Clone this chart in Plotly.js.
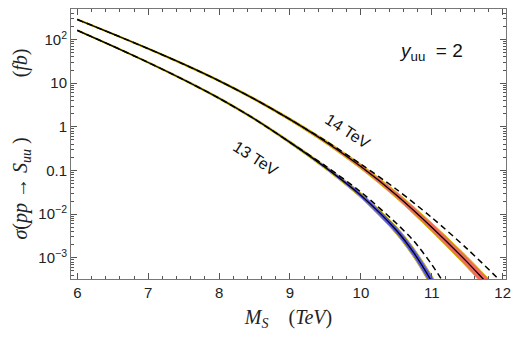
<!DOCTYPE html>
<html>
<head>
<meta charset="utf-8">
<script src="https://cdn.plot.ly/plotly-3.0.1.min.js"></script>
<style>html,body{margin:0;padding:0;background:#fff;}</style>
</head>
<body>
<div id="chart" style="width:515px;height:337px;"></div>
<script>
// 13 TeV: central, band upper/lower, dashed curve (fb)
const x13 = [6, 6.5, 7, 7.5, 8, 8.5, 9, 9.5, 10, 10.5, 10.75, 11, 11.25];
const mid13 = [162.2, 70.79, 29.85, 12.02, 4.519, 1.514, 0.4416, 0.1175, 0.02692, 0.004266, 0.001274, 0.0002851, 0.0000507];
const up13 = [167.9, 73.28, 31.05, 12.59, 4.753, 1.603, 0.4732, 0.1288, 0.0309, 0.005248, 0.001641, 0.0003936, 0.00007499];
const lo13 = [156.7, 68.39, 28.71, 11.48, 4.295, 1.429, 0.4121, 0.1072, 0.02344, 0.003467, 0.0009886, 0.0002065, 0.00003428];
const dash13 = [162.2, 70.79, 29.85, 12.02, 4.519, 1.514, 0.4416, 0.1271, 0.03214, 0.006166, 0.002388, 0.0006998, 0.0001641];

// 14 TeV: central, band upper/lower (fb)
const x14 = [6, 6.5, 7, 7.5, 8, 8.5, 9, 9.5, 10, 10.5, 11, 11.5, 11.75, 12];
const mid14 = [288.4, 134.9, 61.66, 27.23, 11.35, 4.315, 1.479, 0.4571, 0.123, 0.02754, 0.005012, 0.0007943, 0.0002951, 0.0001096];
const up14 = [298.5, 139.6, 64.12, 28.51, 11.94, 4.571, 1.585, 0.5012, 0.1396, 0.03273, 0.00631, 0.001059, 0.0004074, 0.0001549];
const lo14 = [278.6, 130.3, 59.29, 26.0, 10.79, 4.074, 1.38, 0.4169, 0.1084, 0.02317, 0.003981, 0.0005957, 0.0002138, 0.00007762];
// 14 TeV dashed curve (fb)
const xd14 = [6, 6.5, 7, 7.5, 8, 8.5, 9, 9.5, 10, 10.5, 11, 11.5, 12, 12.25];
const dash14 = [288.4, 134.9, 61.66, 27.23, 11.35, 4.315, 1.479, 0.4786, 0.1403, 0.03715, 0.008356, 0.0016, 0.0002618, 0.0001];

const yLabelAlias = {'100': '10<sup>2</sup>', '0.01': '10<sup>−2</sup>', '0.001': '10<sup>−3</sup>'};

const edge = 'rgb(205,185,0)';
function band(x, up, lo, fillc) {
  return [
    {x: x, y: up, type: 'scatter', mode: 'lines', line: {color: edge, width: 1, shape: 'spline', smoothing: 0.8}, hoverinfo: 'skip', showlegend: false},
    {x: x, y: lo, type: 'scatter', mode: 'lines', fill: 'tonexty', fillcolor: fillc, line: {color: edge, width: 1, shape: 'spline', smoothing: 0.8}, hoverinfo: 'skip', showlegend: false}
  ];
}
const solid = {color: 'black', width: 1.3, shape: 'spline', smoothing: 0.8};
const dashed = {color: 'black', width: 1.5, dash: '6px,4px', shape: 'spline', smoothing: 0.8};
const traces = [
  ...band(x14, up14, lo14, 'rgb(245,105,95)'),
  ...band(x13, up13, lo13, 'rgb(85,85,245)'),
  {x: x14, y: mid14, type: 'scatter', mode: 'lines', line: solid, showlegend: false},
  {x: x13, y: mid13, type: 'scatter', mode: 'lines', line: solid, showlegend: false},
  {x: xd14, y: dash14, type: 'scatter', mode: 'lines', line: dashed, showlegend: false},
  {x: x13, y: dash13, type: 'scatter', mode: 'lines', line: dashed, showlegend: false}
];

const tickFont = {family: 'Liberation Sans, Arial, sans-serif', size: 15, color: '#222'};
const serif = 'Liberation Serif, Times New Roman, serif';
const NB = '\u00a0';
const layout = {
  width: 515, height: 337,
  margin: {l: 71, r: 9, t: 9, b: 58},
  paper_bgcolor: '#fff', plot_bgcolor: '#fff',
  showlegend: false,
  xaxis: {
    range: [5.911, 12.047], showgrid: false, zeroline: false,
    tickmode: 'linear', tick0: 6, dtick: 1,
    ticks: 'inside', ticklen: 6, tickwidth: 1, tickcolor: '#555',
    minor: {tickmode: 'linear', tick0: 6, dtick: 0.2, ticks: 'inside', ticklen: 3, tickwidth: 1, tickcolor: '#555', showgrid: false},
    mirror: 'allticks', showline: true, linecolor: '#777', linewidth: 1,
    tickfont: tickFont,
    title: {text: '<i>M</i><sub><i>S</i></sub>' + NB.repeat(4) + '(<i>TeV</i>)', font: {family: serif, size: 20, color: '#222'}, standoff: 9}
  },
  yaxis: {
    type: 'log', range: [-3.486, 2.70], showgrid: false, zeroline: false,
    tickmode: 'linear', tick0: 0, dtick: 1, exponentformat: 'none',
    labelalias: yLabelAlias,
    ticks: 'inside', ticklen: 6, tickwidth: 1, tickcolor: '#555',
    minor: {dtick: 'D1', ticks: 'inside', ticklen: 3, tickwidth: 1, tickcolor: '#555', showgrid: false},
    mirror: 'allticks', showline: true, linecolor: '#777', linewidth: 1,
    tickfont: tickFont,
    title: {text: '<i>σ</i>(<i>pp</i> → <i>S</i><sub><i>uu</i></sub> )' + NB.repeat(12) + '(<i>fb</i>)', font: {family: serif, size: 20, color: '#222'}, standoff: 5}
  },
  annotations: [
    {xref: 'paper', yref: 'paper', x: 0.828, y: 0.84, xanchor: 'center', yanchor: 'middle', showarrow: false,
     text: '<i>y</i><sub>uu</sub>' + NB + NB + '= 2', font: {family: 'Liberation Sans, Arial, sans-serif', size: 19, color: '#111'}},
    {xref: 'paper', yref: 'paper', x: 0.637, y: 0.548, xanchor: 'center', yanchor: 'middle', showarrow: false, textangle: 33,
     text: '14 TeV', font: {family: 'Liberation Sans, Arial, sans-serif', size: 16, color: '#111'}},
    {xref: 'paper', yref: 'paper', x: 0.425, y: 0.448, xanchor: 'center', yanchor: 'middle', showarrow: false, textangle: 33,
     text: '13 TeV', font: {family: 'Liberation Sans, Arial, sans-serif', size: 16, color: '#111'}}
  ]
};
Plotly.newPlot('chart', traces, layout, {displayModeBar: false, staticPlot: true});
</script>
</body>
</html>
